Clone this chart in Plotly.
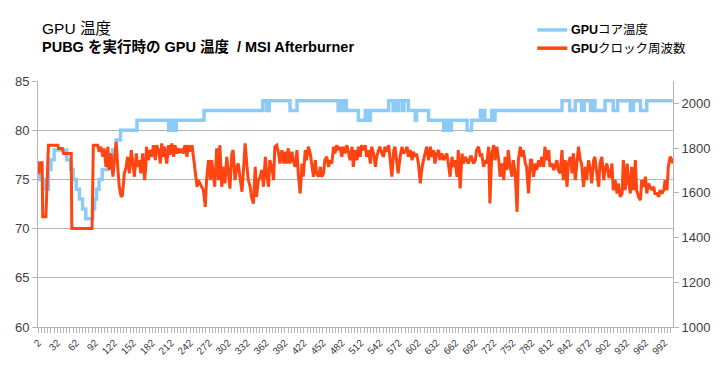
import plotly.graph_objects as go

# ---- GPU core temperature (step data: category where a level starts, level in °C)
temp_start = [2, 4, 13, 18, 22, 27, 47, 53, 57, 62, 67, 72, 77, 88, 91, 94, 98, 103, 111, 119,
              125, 132, 158, 208, 212, 216, 220, 264, 357, 363, 367, 400, 411, 476, 479, 482,
              485, 489, 508, 519, 524, 527, 556, 563, 565, 568, 572, 578, 580, 587, 598, 600,
              619, 643, 646, 648, 650, 652, 655, 680, 687, 701, 704, 705, 708, 719, 722, 724,
              830, 842, 851, 861, 865, 875, 880, 882, 898, 911, 918, 938, 943, 954, 964, 1005]
temp_level = [76, 75, 74, 76, 77, 78, 77, 76, 75, 74, 73, 72, 71, 72, 73, 74, 75, 76, 77, 78,
              79, 80, 81, 80, 81, 80, 81, 82, 83, 82, 83, 82, 83, 82, 83, 82,
              83, 82, 81, 82, 81, 82, 83, 82, 83, 82, 83, 82, 83, 82, 81, 82,
              81, 80, 81, 80, 81, 80, 81, 80, 81, 82, 81, 82, 81, 82, 81, 82,
              83, 82, 83, 82, 83, 82, 83, 82, 83, 82, 83, 82, 83, 82, 83, 83]

# ---- GPU clock (MHz)
clock_cat = [2, 3, 4, 8, 9, 14, 18, 33, 34, 40, 42, 54, 55, 87, 89, 96, 98, 101, 104, 106,
             109, 112, 114, 117, 120, 122, 125, 128, 130, 133, 135, 138, 141, 143, 146, 149,
             151, 154, 157, 159, 162, 164, 167, 170, 172,
             173, 176, 179, 181, 184, 187, 189, 192, 195, 197, 200, 202, 205, 208, 210, 213,
             216, 218, 221, 224, 226, 229, 231, 234, 237, 239, 242, 245, 247, 250, 253, 255,
             258, 260, 263, 266, 268, 271, 274, 276, 279, 281, 284, 287, 289, 292, 295, 297,
             300, 303, 305, 308, 310, 313, 316, 318, 321, 324, 326, 329, 332, 334, 337, 339,
             342, 345, 347, 350, 353, 355, 358, 361, 363, 366, 368, 371, 374, 376, 379, 382,
             384, 387, 390, 392, 395, 397, 400, 403, 405, 408, 411, 413, 416, 419, 421, 424,
             426, 429, 432, 434, 437, 440, 442, 445, 448, 450, 453, 455, 458, 461, 463, 466,
             469, 471, 474, 477, 479, 482, 484, 487, 490, 492, 495, 498, 500, 503, 506, 508,
             511, 513, 516, 519, 521, 524, 527, 529, 532, 535, 537,
             540, 542, 545, 548, 550, 553, 556, 558, 561, 564, 566, 569, 571, 574, 577, 579,
             582, 585, 587, 590, 593, 595, 598, 600, 603, 606, 608, 611, 614, 616, 619, 622,
             624, 627, 629, 632, 635, 637, 640, 643, 645, 648, 651, 653, 656, 658, 661, 664,
             666, 669, 672, 674, 677, 680, 682, 685, 687, 690, 693, 695, 698, 701, 703, 706,
             709, 711, 714, 716, 719, 722, 724, 727, 730, 732, 735, 738, 740, 743, 745, 748,
             751, 753, 756, 759, 761, 764, 767, 769, 772, 774, 777, 780,
             782, 785, 788, 790, 793, 795, 798, 801, 803, 806, 809, 811, 814, 817, 819, 822,
             824, 827, 830, 832, 835, 838, 840, 843, 846, 848, 851, 853, 856, 859, 861, 864,
             867, 869, 872, 875, 877, 880, 882, 885, 888, 890, 893, 896, 898, 901, 904, 906,
             909, 911, 914, 917, 919, 922, 925, 927, 930, 933, 935, 938, 940, 943, 946, 948,
             951, 954, 956, 959, 962, 964, 967, 969, 972, 975, 977, 980, 983, 985, 988, 991,
             993, 996, 998, 1001, 1004, 1005]
clock_mhz = [1690, 1690, 1734, 1734, 1493, 1493, 1813, 1813, 1798, 1798, 1776, 1776, 1440, 1440, 1813, 1813, 1784, 1806, 1761, 1799,
             1716, 1806, 1702, 1776, 1672, 1746, 1828, 1702, 1627, 1582, 1590, 1687, 1716, 1761, 1687, 1791,
             1731, 1672, 1776, 1716, 1746, 1687, 1776, 1657, 1716,
             1806, 1746, 1791, 1761, 1813, 1746, 1813, 1791, 1731, 1821, 1761, 1806, 1731, 1813, 1769, 1821,
             1761, 1813, 1776, 1799, 1784, 1791, 1776, 1813, 1761, 1813, 1784, 1813, 1761, 1702, 1627, 1657,
             1642, 1627, 1612, 1537, 1657, 1746, 1657, 1746, 1687, 1627, 1799, 1657, 1813, 1627, 1716, 1642,
             1761, 1687, 1619, 1776, 1791, 1657, 1716, 1731, 1657, 1605, 1687, 1821, 1716, 1657, 1627, 1582,
             1552, 1716, 1582, 1657, 1672, 1702, 1627, 1761, 1687, 1627, 1746, 1716, 1657, 1806, 1813, 1776,
             1731, 1791, 1731, 1784, 1731, 1799, 1731, 1784, 1746, 1716, 1791, 1687, 1597, 1731, 1672, 1791,
             1746, 1806, 1776, 1731, 1672, 1746, 1687, 1672, 1716, 1672, 1687, 1746, 1761, 1716, 1746, 1731,
             1806, 1776, 1813, 1791, 1806, 1761, 1806, 1776, 1813, 1784, 1746, 1806, 1716, 1791, 1746, 1806,
             1761, 1813, 1791, 1813, 1761, 1791, 1731, 1806, 1776, 1716, 1761,
             1791, 1806, 1776, 1761, 1806, 1784, 1813, 1746, 1672, 1791, 1806, 1731, 1687, 1761, 1806, 1776,
             1784, 1806, 1761, 1791, 1746, 1784, 1761, 1776, 1731, 1642, 1702, 1746, 1776, 1806, 1746, 1806,
             1761, 1791, 1731, 1776, 1791, 1746, 1776, 1746, 1761, 1776, 1716, 1672, 1761, 1716, 1746, 1672,
             1791, 1620, 1776, 1731, 1761, 1746, 1731, 1761, 1761, 1731, 1746, 1791, 1806, 1761, 1776, 1716,
             1746, 1731, 1806, 1552, 1776, 1813, 1746, 1806, 1746, 1672, 1731, 1657, 1761, 1702, 1791, 1716,
             1672, 1746, 1687, 1515, 1746, 1806, 1761, 1791, 1731, 1716, 1597, 1746,
             1746, 1672, 1731, 1702, 1746, 1716, 1761, 1716, 1806, 1746, 1791, 1716, 1731, 1702, 1716, 1746,
             1702, 1687, 1791, 1657, 1746, 1627, 1731, 1761, 1687, 1776, 1657, 1731, 1806, 1746, 1731, 1627,
             1716, 1657, 1746, 1702, 1642, 1746, 1761, 1687, 1627, 1731, 1761, 1657, 1702, 1731, 1672, 1672,
             1731, 1612, 1657, 1597, 1642, 1582, 1597, 1746, 1612, 1731, 1657, 1597, 1716, 1612, 1746, 1612,
             1582, 1567, 1657, 1627, 1672, 1597, 1642, 1627, 1612, 1627, 1597, 1597, 1582, 1612, 1597, 1612,
             1657, 1612, 1716, 1761, 1746, 1731]

x_tick_vals = list(range(2, 1005, 30))
x_tick_text = [str(v) for v in x_tick_vals]

title_main = "GPU 温度"
title_sub = "<b>PUBG を実行時の GPU 温度\u00a0\u00a0/ MSI Afterburner</b>"
name_temp = "<b>GPU</b>コア温度"
name_clock = "<b>GPU</b>クロック周波数"

COL_TEMP = "#8CCBF7"
COL_CLOCK = "#FF4512"
FONT = "Liberation Sans, Arial, Noto Sans CJK JP, sans-serif"
GRID = "#B4B4B4"
TXT = "#404040"

fig = go.Figure()
fig.add_trace(go.Scatter(
    x=temp_start, y=temp_level, mode="lines", name=name_temp,
    line=dict(color=COL_TEMP, width=3.5, shape="hv"),
))
fig.add_trace(go.Scatter(
    x=clock_cat, y=clock_mhz, mode="lines", name=name_clock, yaxis="y2",
    line=dict(color=COL_CLOCK, width=3),
))

# manual legend (lines + labels) placed above the plot, right side
legend_rows = [(1.2076, COL_TEMP, name_temp), (1.1335, COL_CLOCK, name_clock)]
shapes = []
annotations = []
for ly, col, nm in legend_rows:
    shapes.append(dict(type="line", xref="paper", yref="paper", x0=0.7862, x1=0.8335,
                       y0=ly, y1=ly, line=dict(color=col, width=3.5)))
    annotations.append(dict(text=nm, xref="paper", yref="paper", x=0.8370, y=ly,
                            xanchor="left", yanchor="middle", align="left", showarrow=False,
                            font=dict(size=12.5, color="#000000")))

annotations += [
    dict(text=title_main, xref="paper", yref="paper", x=0.0031, y=1.214,
         xanchor="left", yanchor="middle", align="left", showarrow=False,
         font=dict(size=15.5, color="#000000")),
    dict(text=title_sub, xref="paper", yref="paper", x=0.0032, y=1.140,
         xanchor="left", yanchor="middle", align="left", showarrow=False,
         font=dict(size=14.5, color="#000000")),
]

# page body adds an 8px margin, so the figure is 716x366 and offsets are reduced by 8px
fig.update_layout(
    width=716, height=366,
    margin=dict(l=30, r=51.3, t=73, b=47.3, pad=0, autoexpand=False),
    paper_bgcolor="white", plot_bgcolor="white",
    font=dict(family=FONT, size=12, color=TXT),
    showlegend=False,
    xaxis=dict(
        range=[1.5, 1005.5], tickmode="array", tickvals=x_tick_vals, ticktext=x_tick_text,
        tickangle=-45, tickfont=dict(size=10, color=TXT), automargin=False,
        showgrid=False, zeroline=False,
        showline=True, linecolor=GRID, linewidth=1,
        ticks="outside", ticklen=5, tickcolor=GRID,
        minor=dict(dtick=5, tick0=2, ticks="outside", ticklen=5, tickcolor=GRID, showgrid=False),
    ),
    yaxis=dict(
        range=[60, 85], dtick=5, tickfont=dict(size=13, color=TXT), automargin=False,
        showgrid=True, gridcolor=GRID, gridwidth=1, zeroline=False,
        showline=True, linecolor=GRID, linewidth=1,
        ticks="outside", ticklen=5, tickcolor=GRID,
    ),
    yaxis2=dict(
        range=[1000, 2100], tick0=1000, dtick=200, overlaying="y", side="right",
        tickfont=dict(size=13, color=TXT), automargin=False,
        showgrid=False, zeroline=False,
        showline=True, linecolor=GRID, linewidth=1,
        ticks="outside", ticklen=5, tickcolor=GRID,
    ),
    shapes=shapes,
    annotations=annotations,
)

fig.write_html("out.html")
